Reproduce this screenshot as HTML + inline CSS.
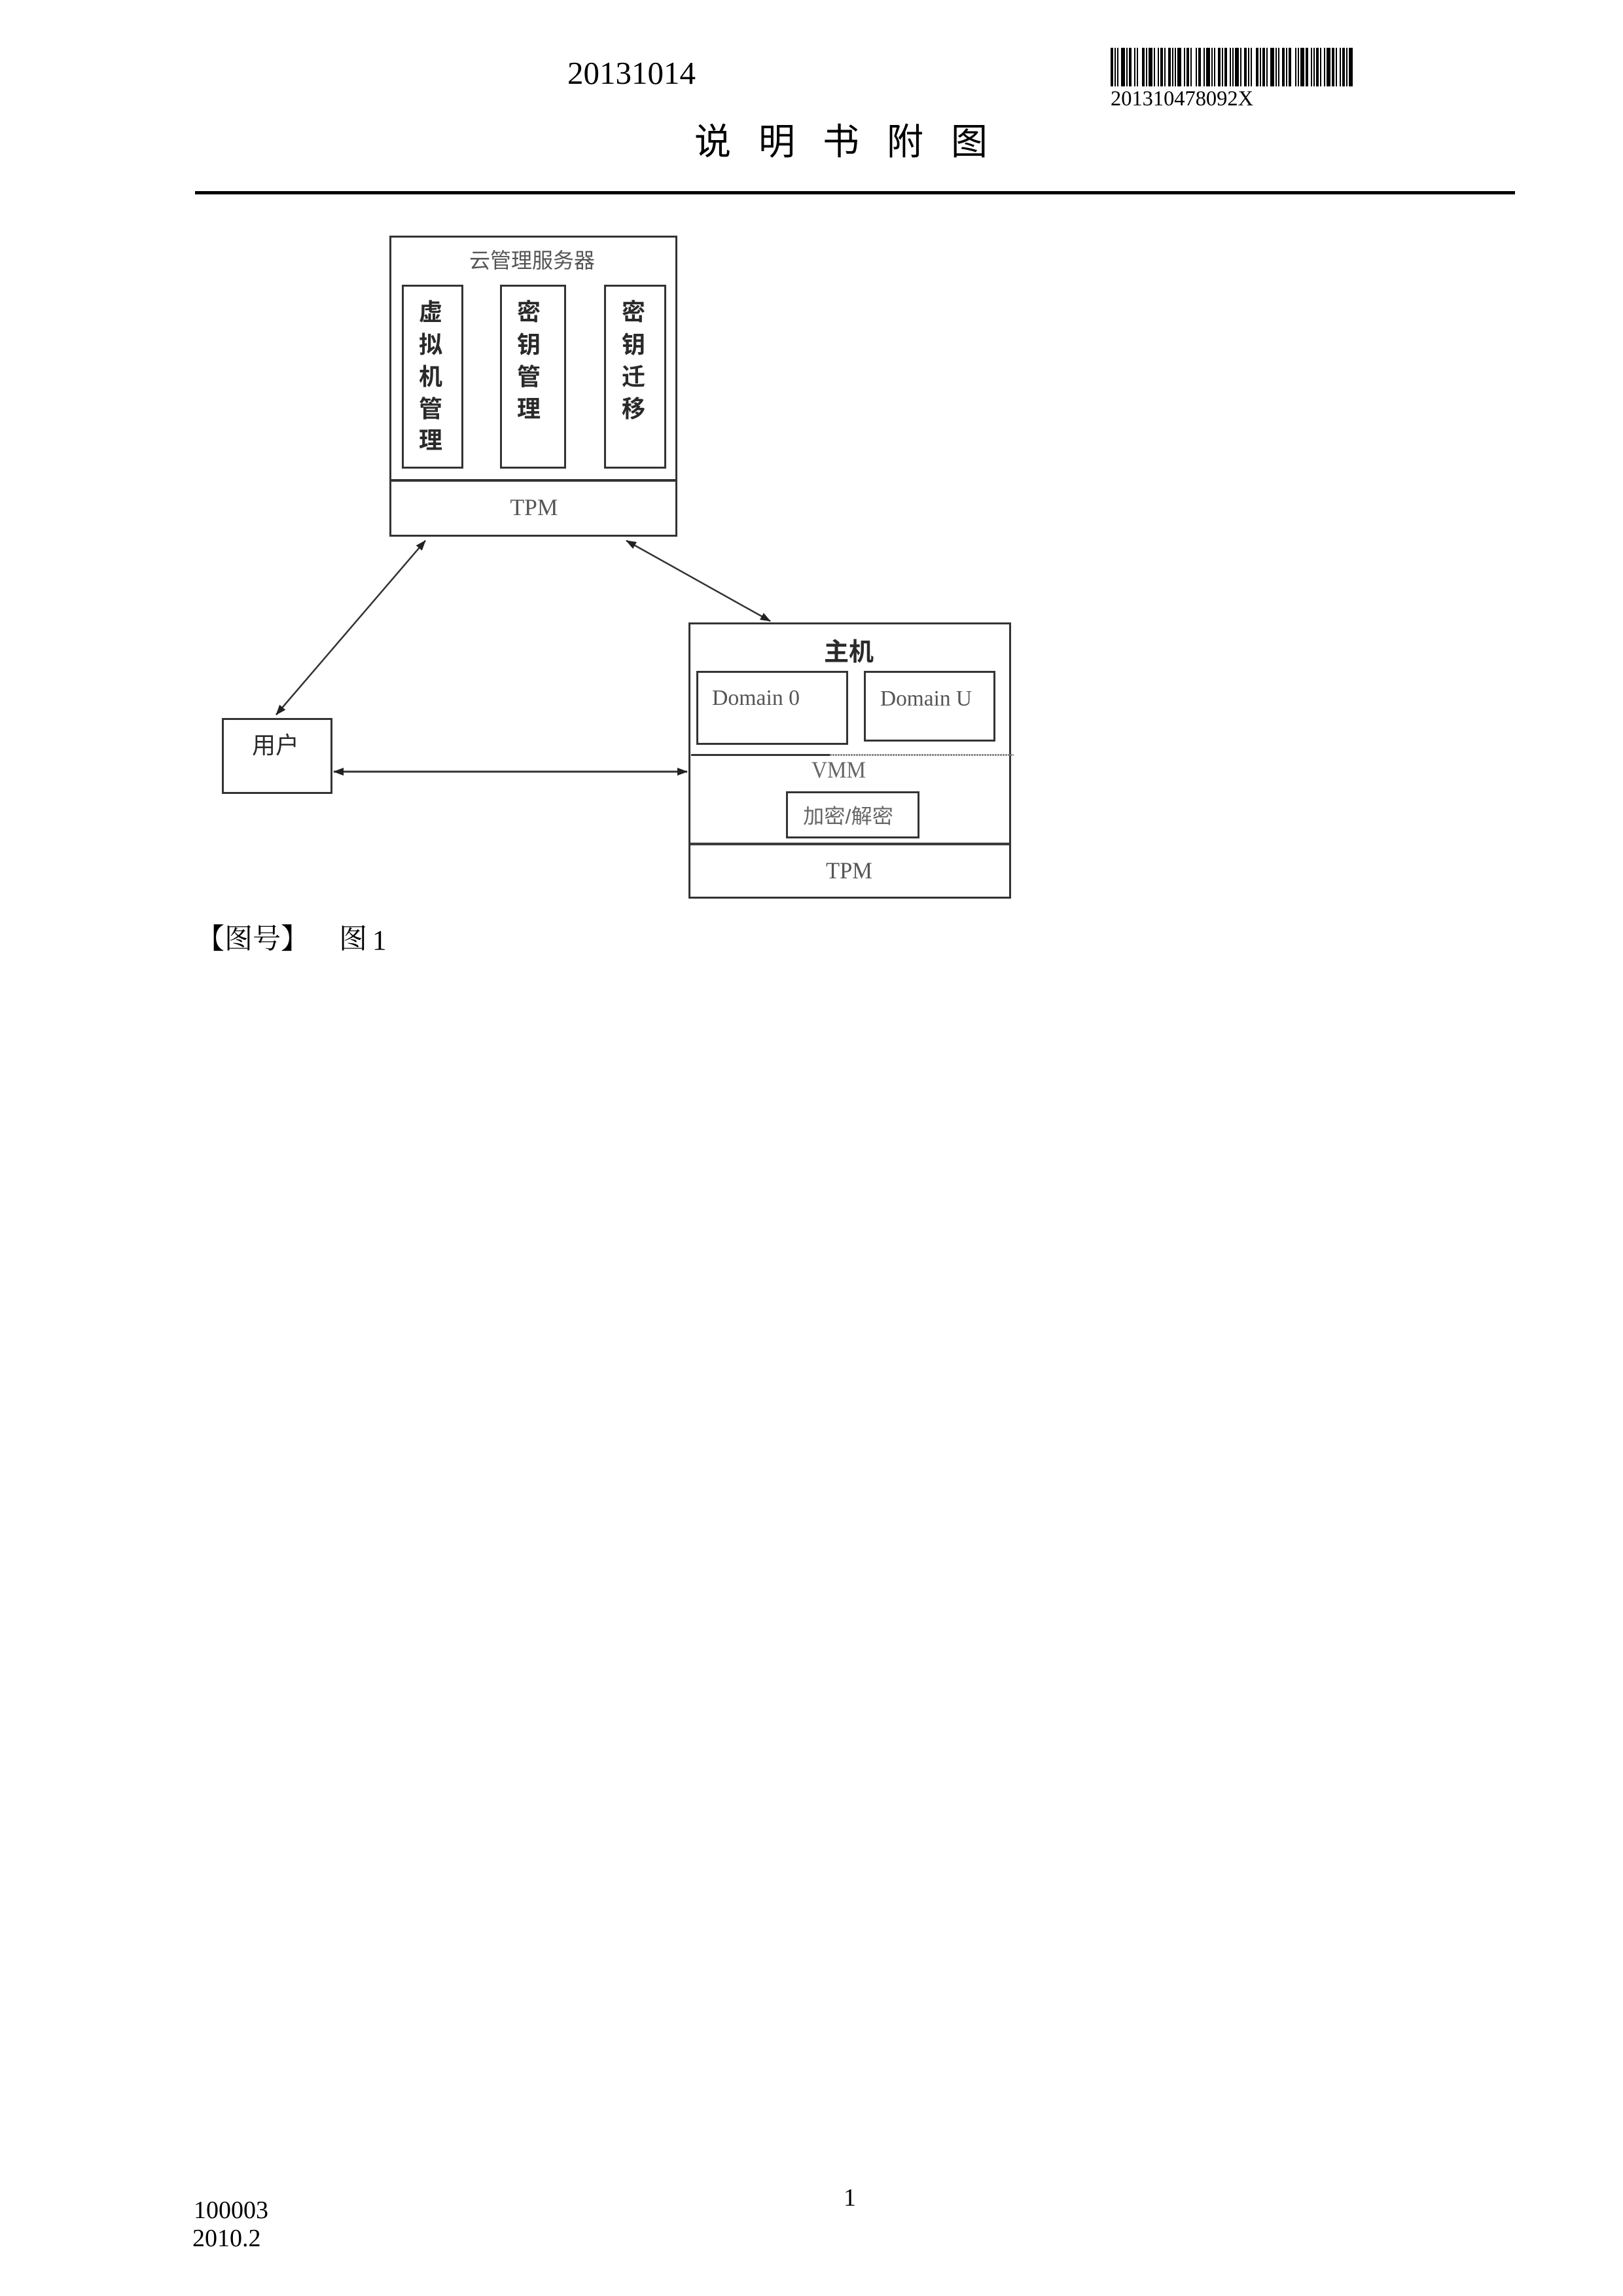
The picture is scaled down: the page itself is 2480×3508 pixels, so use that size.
<!DOCTYPE html>
<html>
<head>
<meta charset="utf-8">
<style>
  html, body { margin: 0; padding: 0; background: #fff; }
  body { width: 2480px; height: 3508px; overflow: hidden; }
  svg { display: block; }
  .serif { font-family: "Liberation Serif", "Noto Serif CJK SC", serif; }
  .cjk { font-family: "Liberation Sans", "Noto Sans CJK SC", sans-serif; }
  .cjks { font-family: "Liberation Serif", "Noto Serif CJK SC", serif; }
</style>
</head>
<body>
<svg width="2480" height="3508" viewBox="0 0 2480 3508" xmlns="http://www.w3.org/2000/svg">
  <defs>
    <marker id="ah" viewBox="0 0 16 12" refX="15" refY="6" markerWidth="16" markerHeight="12" markerUnits="userSpaceOnUse" orient="auto-start-reverse">
      <path d="M0,0 L16,6 L0,12 z" fill="#222"/>
    </marker>
  </defs>
  <rect width="2480" height="3508" fill="#fff"/>

  <text class="serif" x="867" y="128" font-size="49" fill="#000">20131014</text>

  <g transform="translate(1697,73)" fill="#000">
    <rect x="0" y="0" width="4" height="59"/>
    <rect x="6" y="0" width="2" height="59"/>
    <rect x="10" y="0" width="2" height="59"/>
    <rect x="16" y="0" width="6" height="59"/>
    <rect x="24" y="0" width="2" height="59"/>
    <rect x="28" y="0" width="4" height="59"/>
    <rect x="36" y="0" width="2" height="59"/>
    <rect x="40" y="0" width="2" height="59"/>
    <rect x="48" y="0" width="4" height="59"/>
    <rect x="54" y="0" width="2" height="59"/>
    <rect x="58" y="0" width="6" height="59"/>
    <rect x="66" y="0" width="2" height="59"/>
    <rect x="72" y="0" width="2" height="59"/>
    <rect x="76" y="0" width="4" height="59"/>
    <rect x="82" y="0" width="2" height="59"/>
    <rect x="88" y="0" width="4" height="59"/>
    <rect x="94" y="0" width="2" height="59"/>
    <rect x="98" y="0" width="2" height="59"/>
    <rect x="102" y="0" width="6" height="59"/>
    <rect x="112" y="0" width="2" height="59"/>
    <rect x="116" y="0" width="4" height="59"/>
    <rect x="122" y="0" width="2" height="59"/>
    <rect x="130" y="0" width="2" height="59"/>
    <rect x="134" y="0" width="4" height="59"/>
    <rect x="142" y="0" width="2" height="59"/>
    <rect x="146" y="0" width="6" height="59"/>
    <rect x="154" y="0" width="2" height="59"/>
    <rect x="158" y="0" width="2" height="59"/>
    <rect x="164" y="0" width="4" height="59"/>
    <rect x="170" y="0" width="2" height="59"/>
    <rect x="174" y="0" width="4" height="59"/>
    <rect x="182" y="0" width="2" height="59"/>
    <rect x="186" y="0" width="2" height="59"/>
    <rect x="190" y="0" width="6" height="59"/>
    <rect x="198" y="0" width="2" height="59"/>
    <rect x="204" y="0" width="4" height="59"/>
    <rect x="210" y="0" width="2" height="59"/>
    <rect x="214" y="0" width="2" height="59"/>
    <rect x="222" y="0" width="4" height="59"/>
    <rect x="228" y="0" width="2" height="59"/>
    <rect x="232" y="0" width="4" height="59"/>
    <rect x="238" y="0" width="2" height="59"/>
    <rect x="244" y="0" width="6" height="59"/>
    <rect x="252" y="0" width="2" height="59"/>
    <rect x="256" y="0" width="2" height="59"/>
    <rect x="262" y="0" width="4" height="59"/>
    <rect x="268" y="0" width="2" height="59"/>
    <rect x="272" y="0" width="4" height="59"/>
    <rect x="282" y="0" width="2" height="59"/>
    <rect x="286" y="0" width="2" height="59"/>
    <rect x="290" y="0" width="6" height="59"/>
    <rect x="298" y="0" width="4" height="59"/>
    <rect x="306" y="0" width="2" height="59"/>
    <rect x="310" y="0" width="2" height="59"/>
    <rect x="314" y="0" width="4" height="59"/>
    <rect x="320" y="0" width="2" height="59"/>
    <rect x="326" y="0" width="2" height="59"/>
    <rect x="330" y="0" width="6" height="59"/>
    <rect x="338" y="0" width="4" height="59"/>
    <rect x="344" y="0" width="2" height="59"/>
    <rect x="350" y="0" width="2" height="59"/>
    <rect x="354" y="0" width="4" height="59"/>
    <rect x="360" y="0" width="2" height="59"/>
    <rect x="364" y="0" width="6" height="59"/>
  </g>
  <text class="serif" x="1697" y="161" font-size="33" fill="#000" textLength="218" lengthAdjust="spacingAndGlyphs">201310478092X</text>

  <g class="cjk" font-size="56" fill="#000">
    <text x="1061" y="236">说</text>
    <text x="1159" y="236">明</text>
    <text x="1257" y="236">书</text>
    <text x="1355" y="236">附</text>
    <text x="1453" y="236">图</text>
  </g>

  <rect x="298" y="292" width="2017" height="5" fill="#000"/>

  <g fill="none" stroke="#333" stroke-width="3">
    <rect x="596.5" y="361.5" width="437" height="457"/>
    <line x1="596" y1="734" x2="1034" y2="734" stroke-width="4"/>
    <rect x="615.5" y="436.5" width="91" height="278"/>
    <rect x="765.5" y="436.5" width="98" height="278"/>
    <rect x="924.5" y="436.5" width="92" height="278"/>

    <rect x="1053.5" y="952.5" width="490" height="419"/>
    <rect x="1065.5" y="1026.5" width="229" height="110"/>
    <rect x="1321.5" y="1026.5" width="198" height="105"/>
    <line x1="1056" y1="1153.5" x2="1268" y2="1153.5"/>
    <line x1="1268" y1="1153.5" x2="1549" y2="1153.5" stroke="#8a8a8a" stroke-dasharray="3,1"/>
    <rect x="1202.5" y="1210.5" width="201" height="69"/>
    <line x1="1053" y1="1289.5" x2="1544" y2="1289.5" stroke-width="4"/>

    <rect x="340.5" y="1098.5" width="166" height="113"/>
  </g>

  <g stroke="#333" fill="none">
    <line x1="650" y1="826" x2="422" y2="1092" stroke-width="2.5" marker-start="url(#ah)" marker-end="url(#ah)"/>
    <line x1="957" y1="826" x2="1177" y2="949" stroke-width="2.5" marker-start="url(#ah)" marker-end="url(#ah)"/>
    <line x1="510" y1="1179" x2="1050" y2="1179" stroke-width="3" marker-start="url(#ah)" marker-end="url(#ah)"/>
  </g>

  <text class="cjk" x="813" y="409" font-size="32" fill="#555" text-anchor="middle">云管理服务器</text>
  <g class="cjk" font-size="36" font-weight="bold" fill="#2a2a2a" text-anchor="middle">
    <text x="658" y="489">虚</text>
    <text x="658" y="539">拟</text>
    <text x="658" y="588">机</text>
    <text x="658" y="637">管</text>
    <text x="658" y="685">理</text>
    <text x="808" y="489">密</text>
    <text x="808" y="539">钥</text>
    <text x="808" y="588">管</text>
    <text x="808" y="637">理</text>
    <text x="968" y="489">密</text>
    <text x="968" y="539">钥</text>
    <text x="968" y="588">迁</text>
    <text x="968" y="637">移</text>
  </g>
  <text class="serif" x="816" y="787" font-size="36" fill="#555" text-anchor="middle" textLength="73" lengthAdjust="spacingAndGlyphs">TPM</text>

  <text class="cjk" x="1297" y="1009" font-size="38" font-weight="bold" fill="#2a2a2a" text-anchor="middle">主机</text>
  <text class="serif" x="1088" y="1077" font-size="34" fill="#555" textLength="134" lengthAdjust="spacingAndGlyphs">Domain 0</text>
  <text class="serif" x="1345" y="1078" font-size="34" fill="#555" textLength="140" lengthAdjust="spacingAndGlyphs">Domain U</text>
  <text class="serif" x="1240" y="1188" font-size="36" fill="#666" textLength="83" lengthAdjust="spacingAndGlyphs">VMM</text>
  <text class="cjk" x="1227" y="1258" font-size="31" fill="#666" textLength="138" lengthAdjust="spacingAndGlyphs">加密/解密</text>
  <text class="serif" x="1262" y="1342" font-size="36" fill="#555" textLength="71" lengthAdjust="spacingAndGlyphs">TPM</text>

  <text class="cjk" x="421" y="1151" font-size="36" fill="#2a2a2a" text-anchor="middle">用户</text>

  <text class="cjks" x="300" y="1449" font-size="43" fill="#000">【图号】</text>
  <text class="cjks" x="518" y="1449" font-size="43" fill="#000">图</text>
  <text class="serif" x="569" y="1451" font-size="43" fill="#000">1</text>

  <text class="serif" x="1289" y="3370" font-size="38" fill="#000">1</text>
  <text class="serif" x="296" y="3389" font-size="38" fill="#000">100003</text>
  <text class="serif" x="294" y="3432" font-size="38" fill="#000">2010.2</text>
</svg>
</body>
</html>
